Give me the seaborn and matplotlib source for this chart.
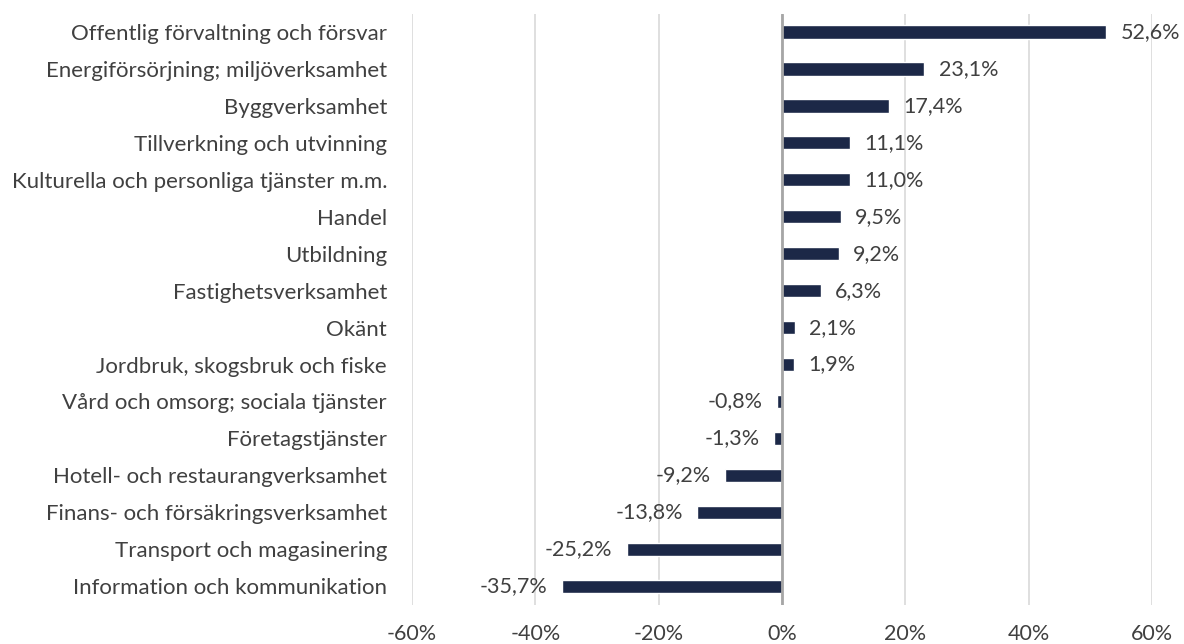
import matplotlib.pyplot as plt
import seaborn as sns
import pandas as pd

categories = [
    "Offentlig förvaltning och försvar",
    "Energiförsörjning; miljöverksamhet",
    "Byggverksamhet",
    "Tillverkning och utvinning",
    "Kulturella och personliga tjänster m.m.",
    "Handel",
    "Utbildning",
    "Fastighetsverksamhet",
    "Okänt",
    "Jordbruk, skogsbruk och fiske",
    "Vård och omsorg; sociala tjänster",
    "Företagstjänster",
    "Hotell- och restaurangverksamhet",
    "Finans- och försäkringsverksamhet",
    "Transport och magasinering",
    "Information och kommunikation",
]
values = [52.6, 23.1, 17.4, 11.1, 11.0, 9.5, 9.2, 6.3, 2.1, 1.9,
          -0.8, -1.3, -9.2, -13.8, -25.2, -35.7]
xticks = [-60, -40, -20, 0, 20, 40, 60]

df = pd.DataFrame({"category": categories, "value": values})

sns.set_theme(style="white")
plt.rcParams['font.family'] = ['Lato', 'DejaVu Sans']

fig = plt.figure(figsize=(11.84, 6.44), dpi=100)
ax = fig.add_axes([0.348, 0.061, 0.625, 0.918])

sns.barplot(data=df, x="value", y="category", orient="h", color="#1c2847",
            width=0.36, ax=ax, zorder=3, saturation=1)

ax.set_xlim(-60, 60)
ax.set_xticks(xticks)
ax.set_xticklabels([f"{t}%" for t in xticks], fontsize=15.5, color="#404040")
ax.tick_params(axis="y", labelsize=16, labelcolor="#404040", length=0, pad=18)
ax.tick_params(axis="x", length=0, pad=14)
ax.set_xlabel("")
ax.set_ylabel("")
for s in ax.spines.values():
    s.set_visible(False)
ax.grid(axis="x", color="#d9d9d9", linewidth=1.2, zorder=0)
ax.axvline(0, color="#a6a6a6", linewidth=2, zorder=4)

for i, v in enumerate(values):
    lab = f"{v:.1f}%".replace(".", ",")
    if v >= 0:
        ax.text(v + 2.3, i, lab, va="center", ha="left", fontsize=15.5, color="#404040")
    else:
        ax.text(v - 2.3, i, lab, va="center", ha="right", fontsize=15.5, color="#404040")

fig.savefig("out.png", dpi=100)
